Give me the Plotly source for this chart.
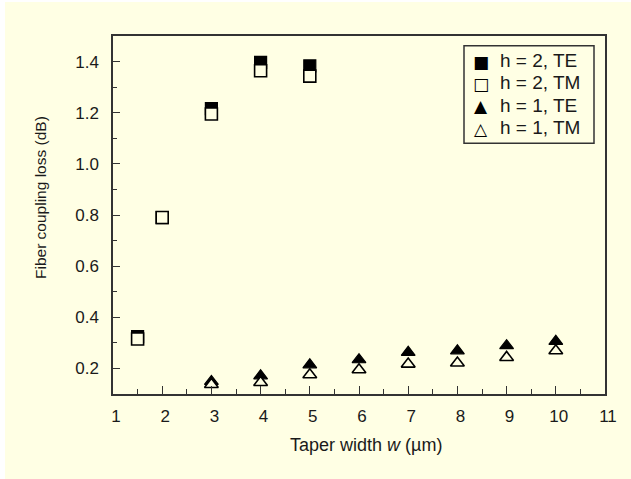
import plotly.graph_objects as go

# Data
x_h2 = [1.5, 2, 3, 4, 5]
h2_te = [0.324, 0.79, 1.216, 1.397, 1.383]
h2_tm = [0.315, 0.79, 1.195, 1.364, 1.343]

x_h1 = [3, 4, 5, 6, 7, 8, 9, 10]
h1_te = [0.149, 0.171, 0.214, 0.234, 0.263, 0.269, 0.289, 0.306]
h1_tm = [0.137, 0.145, 0.175, 0.195, 0.217, 0.221, 0.243, 0.269]

names = ["h = 2, TE", "h = 2, TM", "h = 1, TE", "h = 1, TM"]
legend_glyphs = ["■", "□", "▲", "△"]

x_title = "Taper width <i>w</i> (µm)"
y_title = "Fiber coupling loss (dB)"

BG = "#FFFFE4"
INK = "#1a1a1a"
AX = "#333333"
FONT = "Liberation Sans, Arial, sans-serif"

fig = go.Figure()
fig.add_trace(go.Scatter(x=x_h2, y=h2_te, mode="markers", name=names[0],
                         marker=dict(symbol="square", size=12, color="black",
                                     line=dict(color="black", width=1.2))))
fig.add_trace(go.Scatter(x=x_h2, y=h2_tm, mode="markers", name=names[1],
                         marker=dict(symbol="square", size=12, color=BG,
                                     line=dict(color="black", width=1.6))))
fig.add_trace(go.Scatter(x=x_h1, y=h1_te, mode="markers", name=names[2],
                         marker=dict(symbol="triangle-up", size=12, color="black",
                                     line=dict(color="black", width=1.2))))
fig.add_trace(go.Scatter(x=x_h1, y=h1_tm, mode="markers", name=names[3],
                         marker=dict(symbol="triangle-up", size=12, color=BG,
                                     line=dict(color="black", width=1.6))))

L, R, T, B = 113, 26, 36, 85
W = 631 - L - R
H = 479 - T - B


def px_x(p):
    return (p - L) / W


def px_y(p):
    return (479 - B - p) / H


shapes = [
    dict(type="rect", xref="paper", yref="paper", layer="below",
         x0=px_x(-2), x1=px_x(5), y0=px_y(490), y1=px_y(-2),
         fillcolor="white", line=dict(width=0)),
    dict(type="rect", xref="paper", yref="paper", layer="below",
         x0=px_x(-2), x1=px_x(640), y0=px_y(2), y1=px_y(-2),
         fillcolor="white", line=dict(width=0)),
    # legend frame
    dict(type="rect", xref="paper", yref="paper", layer="above",
         x0=px_x(464), x1=px_x(594), y0=px_y(143.3), y1=px_y(45.7),
         fillcolor="rgba(0,0,0,0)", line=dict(color=AX, width=1.5)),
]

annotations = []
row_y = [60.7, 83.0, 105.3, 127.6]
for name, glyph, ry in zip(names, legend_glyphs, row_y):
    annotations.append(dict(xref="paper", yref="paper", x=px_x(498), y=px_y(ry),
                            xanchor="left", yanchor="middle", showarrow=False,
                            text=name, font=dict(family=FONT, size=19, color=INK)))
    annotations.append(dict(xref="paper", yref="paper", x=px_x(481), y=px_y(ry + 1),
                            xanchor="center", yanchor="middle", showarrow=False,
                            text=glyph, font=dict(family="DejaVu Sans", size=17, color="black")))

annotations.append(dict(xref="paper", yref="paper", x=px_x(366), y=px_y(445),
                        xanchor="center", yanchor="middle", showarrow=False,
                        text=x_title, font=dict(family=FONT, size=18, color=INK)))
annotations.append(dict(xref="paper", yref="paper", x=px_x(40), y=px_y(198),
                        xanchor="center", yanchor="middle", showarrow=False, textangle=-90,
                        text=y_title, font=dict(family=FONT, size=15.5, color=INK)))

fig.update_layout(
    width=631, height=479,
    margin=dict(l=L, r=R, t=T, b=B, pad=0),
    paper_bgcolor=BG,
    plot_bgcolor=BG,
    font=dict(family=FONT, size=17, color=INK),
    showlegend=False,
    shapes=shapes,
    annotations=annotations,
)

fig.update_xaxes(
    range=[1, 11], tick0=1, dtick=1, ticks="inside", ticklen=8, tickwidth=1.3,
    tickcolor=AX, showline=True, linecolor=AX, linewidth=1.5,
    mirror=True, showgrid=False, zeroline=False,
    minor=dict(ticks="inside", ticklen=5, dtick=0.5, tickcolor=AX, tickwidth=1.3),
    tickfont=dict(size=17), ticklabelstandoff=6, ticklabelshift=3,
)
fig.update_yaxes(
    range=[0.1, 1.5], tick0=0.2, dtick=0.2, tickformat=".1f", ticks="inside",
    ticklen=7, tickwidth=1.3, tickcolor=AX, showline=True,
    linecolor=AX, linewidth=1.5, mirror=True, showgrid=False, zeroline=False,
    minor=dict(ticks="inside", ticklen=4, dtick=0.1, tickcolor=AX, tickwidth=1.3),
    tickfont=dict(size=17), ticklabelstandoff=9,
)

fig.write_html("out.html")
